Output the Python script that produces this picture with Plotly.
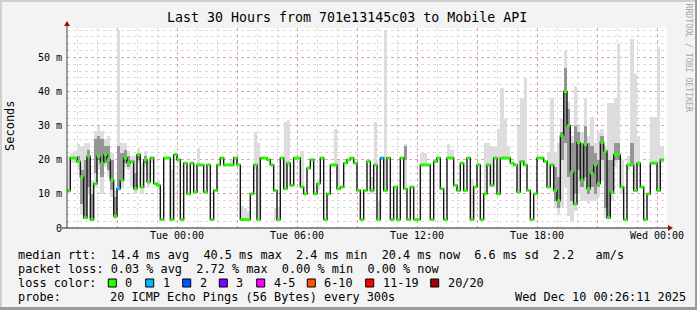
import plotly.graph_objects as go
import pandas as pd

N = None
# ---------------- data (10-minute steps from Mon 18:30) ----------------
start_time = "2025-12-08 18:30"
step_minutes = 10

median_ms = [
    11, 20.5, 20.5, 19.5, 15, 3, 21, 2.5, 13, 21,
    19, 21.5, 20, 14, 3.5, 11.5, 14, 20.5, 19, 19.5,
    11.5, 21.5, 12, 20, 13.5, 20.5, 13, 12.5, 2.5, 20.5,
    20.5, 2.5, 21.5, 20, 2.5, 19, 10, 19, 10.5, 18.5,
    18.5, 10.5, 18.5, 2.5, 11, 18.5, 20.5, 18.5, 18.5, 18.5,
    20.5, 18.5, 2.5, 2.5, 2.5, 10, 18.5, 2.5, 20.5, 20.5,
    20, 18.5, 11, 2.5, 20.5, 11.5, 19, 12.5, 20.5, 20.5,
    12, 10, 17.5, 20, 10, 13, 20.5, 2.5, 10, 18.5,
    18.5, 11.5, 12, 19, 20, 20.5, 19, 11, 2.5, 11,
    19.5, 11, 18.5, 2.5, 20.5, 11, 20.5, 2.5, 12, 2.5,
    20.5, 11.5, 2.5, 12, 2.5, 2.5, 18.5, 18.5, 18.5, 2.5,
    19.5, 20.5, 11.5, 2.5, 20.5, 20.5, 12.5, 11, 19, 11,
    20.5, 2.5, 12, 18.5, 2.5, 10, 18.5, 12.5, 20.5, 10,
    20.5, 20.5, 20.5, 19, 18.5, 10.5, 19.5, 18.5, 11, 2.5,
    10, 20.5, 20.5, 19.5, 12, 18.5, 11, 8, 27, 40,
    30, 16.5, 7, 25, 14, 24.5, 11.5, 16, 18.5, 13,
    25, 22.5, 3, 10.5, 21.5, 21.5, 12, 2.5, 18.5, 18.5,
    11, 19, 12, 2.5, 10, 19, 19, 11, 20,
]

# number of lost pings (of 20) per step
loss_pings = [
    0, 0, 0, 0, 0, 0, 0, 0, 0, 0,
    0, 0, 0, 0, 0, 1, 0, 0, 0, 0,
    0, 0, 0, 0, 0, 0, 0, 0, 0, 0,
    0, 0, 0, 0, 0, 0, 0, 0, 0, 0,
    0, 0, 0, 0, 0, 0, 0, 0, 0, 0,
    0, 0, 0, 0, 0, 0, 0, 0, 0, 0,
    0, 0, 0, 0, 0, 0, 0, 0, 0, 0,
    0, 0, 0, 0, 0, 0, 0, 0, 0, 0,
    0, 0, 0, 0, 0, 0, 0, 0, 0, 0,
    0, 0, 0, 0, 1, 0, 0, 0, 0, 0,
    0, 0, 0, 0, 0, 0, 0, 0, 0, 0,
    0, 0, 0, 0, 0, 0, 0, 0, 0, 0,
    0, 0, 0, 0, 0, 0, 0, 0, 0, 0,
    0, 0, 0, 0, 0, 0, 0, 0, 0, 0,
    0, 0, 0, 0, 0, 0, 0, 0, 0, 0,
    0, 0, 0, 0, 0, 0, 0, 0, 0, 0,
    0, 0, 0, 0, 0, 0, 0, 0, 0, 0,
    0, 0, 0, 0, 0, 0, 0, 0, 0,
]

# outer (light) smoke: max / min ping of each step
smoke_max = [
    21, 22, 22.5, 24.5, 24, 25, 25, 14, 28.5, 30,
    28.5, 26, 27, 22, 11, 58, 25, 25, 22.5, 21,
    21, 23.5, 19, 22.5, 20, 21, N, 14, N, N,
    N, 17, N, N, N, N, N, N, N, 23.5,
    N, N, N, N, N, N, N, N, N, 20,
    N, N, 6.5, 6, 5, N, 28, 25, N, N,
    N, N, 6, 6, N, 31, 31.5, N, N, N,
    22.5, N, N, N, N, 14.5, N, N, N, N,
    29, 20, N, N, N, N, N, N, N, N,
    N, 15, 31, 8, N, 58, N, N, N, N,
    N, 24.5, N, N, N, N, 22, 22, N, N,
    N, N, N, N, 24.5, 23, N, N, N, N,
    N, 14.5, N, N, N, 25, 25, 24, 24, 29,
    41, 32, 24, N, N, 30, 38, 44, N, N,
    N, N, N, N, 22, 38, 22, 25, 32, 52,
    37, 27, 41.5, 30, 28, 38, 27, 32.5, 25, 28,
    29, 24, 36.5, 36.5, 38, 54, 20, N, 21, 55.5,
    45, 27, N, N, N, 32.5, 32.5, 53, 24,
]
smoke_min = [
    10, 19, 19, 17, 4, 2.5, 10, 2, 12, 17,
    10, 18, 15, 9, 2.5, 11, 12, 18, 17, 12,
    10, 19, 10, 18, 12, 19, N, 11, N, N,
    N, 2.5, N, N, N, N, N, N, N, 18,
    N, N, N, N, N, N, N, N, N, 18,
    N, N, 2, 2, 2, N, 17, 2.5, N, N,
    N, N, 2, 2, N, 11, 18, N, N, N,
    12, N, N, N, N, 11, N, N, N, N,
    18, 11, N, N, N, N, N, N, N, N,
    N, 10, 18, 2, N, 11, N, N, N, N,
    N, 11, N, N, N, N, 18.5, 18.5, N, N,
    N, N, N, N, 20.5, 20.5, N, N, N, N,
    N, 2.5, N, N, N, 10, 18, 12, 20, 10,
    20, 20, 20, N, N, 10, 19, 18, N, N,
    N, N, N, N, 12, 18, 6, 4, 6, 12,
    3.5, 2, 5, 10, 8, 8, 7, 8, 8, 9,
    14, 3, 2.5, 8, 18, 20, 10, N, 17, 18,
    11, 18, N, N, N, 18.5, 18.5, 11, 19,
]
# inner (dark) smoke around the median
core_max = [
    N, N, N, 21, 17, 20, 23, 10, 26, 27,
    26, 24, 24, 20, 9, 24, 22, 23, 21, N,
    16, 22, N, 21, N, N, N, N, N, N,
    N, N, N, N, N, N, N, N, N, N,
    N, N, N, N, N, N, N, N, N, N,
    N, N, N, N, N, N, N, N, N, N,
    N, N, N, N, N, N, N, N, N, N,
    N, N, N, N, N, N, N, N, N, N,
    N, N, N, N, N, N, N, N, N, N,
    N, N, N, N, N, N, N, N, N, N,
    N, 24, N, N, N, N, N, N, N, N,
    N, N, N, N, N, N, N, N, N, N,
    N, N, N, N, N, N, N, N, N, N,
    N, N, N, N, N, N, N, N, N, N,
    N, N, N, N, N, N, 18, 15, 28, 47,
    35, 25, 30, 28, 25, 30, 25, 24, 22, 20,
    27, 23, 20, 20, 25, 25, N, N, N, 25,
    N, N, N, N, N, N, N, N, N,
]
core_min = [
    N, N, N, 19, 7, 3, 12, 2.5, 16, 20,
    15, 19, 17, 11, 3, 12, 14, 19, 18, N,
    11, 20, N, 19, N, N, N, N, N, N,
    N, N, N, N, N, N, N, N, N, N,
    N, N, N, N, N, N, N, N, N, N,
    N, N, N, N, N, N, N, N, N, N,
    N, N, N, N, N, N, N, N, N, N,
    N, N, N, N, N, N, N, N, N, N,
    N, N, N, N, N, N, N, N, N, N,
    N, N, N, N, N, N, N, N, N, N,
    N, 20, N, N, N, N, N, N, N, N,
    N, N, N, N, N, N, N, N, N, N,
    N, N, N, N, N, N, N, N, N, N,
    N, N, N, N, N, N, N, N, N, N,
    N, N, N, N, N, N, 8, 6, 20, 25,
    15, 8, 10, 17, 12, 15, 10, 12, 10, 12,
    20, 6, 3, 10, 20, 20, N, N, N, 18.5,
    N, N, N, N, N, N, N, N, N,
]

y_tick_values = [0, 10, 20, 30, 40, 50]
y_tick_labels = ["0", "10 m", "20 m", "30 m", "40 m", "50 m"]
x_tick_times = ["2025-12-09 00:00", "2025-12-09 06:00", "2025-12-09 12:00",
                "2025-12-09 18:00", "2025-12-10 00:00"]
x_tick_labels = ["Tue 00:00", "Tue 06:00", "Tue 12:00", "Tue 18:00", "Wed 00:00"]

loss_classes = ["0", "1", "2", "3", "4-5", "6-10", "11-19", "20/20"]
loss_class_colors = ["#26ff00", "#00b8ff", "#0059ff", "#7e00ff",
                     "#ff00ff", "#ff5500", "#ff0000", "#a00000"]

title_text = "Last 30 Hours from 701e13145c03 to Mobile API"
legend_lines = [
    "median rtt:  14.4 ms avg  40.5 ms max  2.4 ms min  20.4 ms now  6.6 ms sd  2.2   am/s",
    "packet loss: 0.03 % avg  2.72 % max  0.00 % min  0.00 % now",
]
probe_label = "probe:"
probe_text = "20 ICMP Echo Pings (56 Bytes) every 300s"
stamp_text = "Wed Dec 10 00:26:11 2025"

# ---------------- geometry helpers ----------------
W, H = 697, 310
ML, MR, MT, MB = 67, 30, 28, 82
PW, PH = W - ML - MR, H - MT - MB
FONT = "DejaVu Sans Mono"


def fx(x):
    return (x - ML) / PW


def fy(y):
    return (H - MB - y) / PH


step = pd.Timedelta(minutes=step_minutes)
t0 = pd.Timestamp(start_time)
times = [t0 + i * step for i in range(len(median_ms))]

fig = go.Figure()


def band(top, bot, color):
    xs, base, h = [], [], []
    for t, a, b in zip(times, top, bot):
        if a is None or b is None:
            continue
        xs.append(t + step / 2)
        base.append(b)
        h.append(a - b)
    fig.add_trace(go.Bar(x=xs, y=h, base=base, width=step.total_seconds() * 1000,
                         marker=dict(color=color, line=dict(width=0)),
                         hoverinfo="skip", showlegend=False))


band(smoke_max, smoke_min, "#DDDDDD")
band(core_max, core_min, "#959595")

# median step line
fig.add_trace(go.Scatter(x=times + [times[-1] + step], y=median_ms + [median_ms[-1]],
                         mode="lines", line=dict(shape="hv", color="#161616", width=1.4),
                         hoverinfo="skip", showlegend=False))


def loss_class(n):
    if n <= 3:
        return n
    if n <= 5:
        return 4
    if n <= 10:
        return 5
    if n <= 19:
        return 6
    return 7


for ci, col in enumerate(loss_class_colors):
    sx, sy = [], []
    for i, (t, v, lp) in enumerate(zip(times, median_ms, loss_pings)):
        if loss_class(lp) != ci:
            continue
        sx += [t, t + step, None]
        sy += [v, v, None]
    if sx:
        fig.add_trace(go.Scatter(x=sx, y=sy, mode="lines", line=dict(color=col, width=3),
                                 hoverinfo="skip", showlegend=False))

x_start = t0
x_end = t0 + pd.Timedelta(hours=30)
major_x = pd.date_range(t0.ceil("3h"), x_end, freq="3h")
minor_x = pd.date_range(t0.ceil("1h"), x_end, freq="1h")
tick_map = {pd.Timestamp(a): b for a, b in zip(x_tick_times, x_tick_labels)}

MAJOR_GRID = "rgba(225,70,70,0.35)"
MINOR_GRID = "rgba(140,140,140,0.32)"

fig.update_layout(
    width=W, height=H,
    margin=dict(l=ML, r=MR, t=MT, b=MB, pad=0),
    paper_bgcolor="#F3F3F3", plot_bgcolor="#FFFFFF",
    barmode="overlay", bargap=0, showlegend=False,
    font=dict(family=FONT, size=10, color="#000000"),
    xaxis=dict(type="date", range=[x_start, x_end], tickmode="array",
               tickvals=list(major_x), ticktext=[tick_map.get(t, "") for t in major_x],
               showgrid=True, gridcolor=MAJOR_GRID, griddash="dot", gridwidth=1,
               minor=dict(tickmode="array", tickvals=list(minor_x), showgrid=True,
                          gridcolor=MINOR_GRID, griddash="dot", gridwidth=1),
               showline=False, zeroline=False, ticks="", tickfont=dict(size=10, family=FONT),
               fixedrange=True),
    yaxis=dict(range=[0, 58.6], tickmode="array", tickvals=y_tick_values, ticktext=y_tick_labels,
               showgrid=True, gridcolor=MAJOR_GRID, griddash="dot", gridwidth=1,
               minor=dict(tickmode="linear", tick0=0, dtick=2, showgrid=True,
                          gridcolor=MINOR_GRID, griddash="dot", gridwidth=1),
               showline=False, zeroline=False, ticks="", ticklabelstandoff=4,
               tickfont=dict(size=10, family=FONT), fixedrange=True),
)

shapes = []
# axis lines
shapes.append(dict(type="line", xref="paper", yref="paper", x0=fx(67), x1=fx(67), y0=fy(228), y1=fy(25),
                   line=dict(color="#404040", width=1)))
shapes.append(dict(type="line", xref="paper", yref="paper", x0=fx(62), x1=fx(669), y0=fy(228), y1=fy(228),
                   line=dict(color="#202020", width=1)))
# arrow heads
shapes.append(dict(type="path", xref="paper", yref="paper",
                   path=f"M {fx(64)} {fy(26)} L {fx(70)} {fy(26)} L {fx(67)} {fy(21)} Z",
                   fillcolor="#9a1010", line=dict(width=0)))
shapes.append(dict(type="path", xref="paper", yref="paper",
                   path=f"M {fx(668)} {fy(225)} L {fx(668)} {fy(231)} L {fx(673)} {fy(228)} Z",
                   fillcolor="#9a1010", line=dict(width=0)))
# frame
shapes.append(dict(type="rect", xref="paper", yref="paper", x0=fx(0), x1=fx(697), y0=fy(0), y1=fy(2),
                   fillcolor="#CFCFCF", line=dict(width=0)))
shapes.append(dict(type="rect", xref="paper", yref="paper", x0=fx(0), x1=fx(2), y0=fy(0), y1=fy(310),
                   fillcolor="#CFCFCF", line=dict(width=0)))
shapes.append(dict(type="rect", xref="paper", yref="paper", x0=fx(695), x1=fx(697), y0=fy(0), y1=fy(310),
                   fillcolor="#9C9C9C", line=dict(width=0)))
shapes.append(dict(type="rect", xref="paper", yref="paper", x0=fx(0), x1=fx(697), y0=fy(307), y1=fy(310),
                   fillcolor="#9C9C9C", line=dict(width=0)))

annotations = []


def text(x, y, s, size=11.85, anchor="left", color="#000000", angle=0):
    annotations.append(dict(xref="paper", yref="paper", x=fx(x), y=fy(y), text=s, showarrow=False,
                            xanchor=anchor, yanchor="middle", textangle=angle,
                            font=dict(family=FONT, size=size, color=color)))


text(347, 18, title_text, size=13.3, anchor="center")
text(10, 126, "Seconds", size=12, anchor="center", angle=-90)
text(688.5, 58, "RRDTOOL / TOBI OETIKER", size=8.2, anchor="center", color="#A8A8A8", angle=90)

text(16, 254.5, legend_lines[0].replace(" ", "&nbsp;"))
text(16, 268.5, legend_lines[1].replace(" ", "&nbsp;"))
text(16, 282.5, "loss color:")
box_x = [108.3, 145.7, 182.7, 219.3, 256.7, 307.3, 365.7, 430.7]
for bx, lab, col in zip(box_x, loss_classes, loss_class_colors):
    shapes.append(dict(type="rect", xref="paper", yref="paper", x0=fx(bx), x1=fx(bx + 8),
                       y0=fy(279), y1=fy(287), fillcolor=col, line=dict(color="#000000", width=1)))
    text(bx + 15, 282.5, lab)
text(16, 296.5, probe_label)
text(107.7, 296.5, probe_text.replace(" ", "&nbsp;"))
text(513.3, 296.5, stamp_text.replace(" ", "&nbsp;"))

fig.update_layout(shapes=shapes, annotations=annotations)
fig.write_html("out.html")
